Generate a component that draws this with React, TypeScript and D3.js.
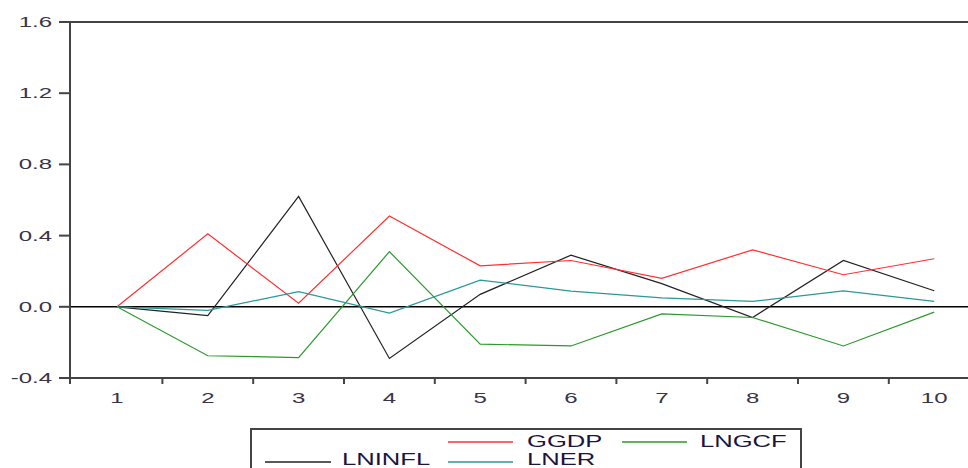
import React, { useEffect } from 'react'
import * as d3 from 'd3'

// periods on the x axis
const periods = ['1', '2', '3', '4', '5', '6', '7', '8', '9', '10']

// response values
const ggdp = [0.0, 0.41, 0.02, 0.51, 0.23, 0.26, 0.16, 0.32, 0.18, 0.27]
const lninfl = [0.0, -0.05, 0.62, -0.29, 0.07, 0.29, 0.13, -0.06, 0.26, 0.09]
const lngcf = [0.0, -0.275, -0.285, 0.31, -0.21, -0.22, -0.04, -0.06, -0.22, -0.03]
const lner = [0.0, -0.02, 0.085, -0.035, 0.15, 0.088, 0.05, 0.03, 0.09, 0.03]

const yTicks = [-0.4, 0.0, 0.4, 0.8, 1.2, 1.6]

const series = [
    { name: 'LNINFL', values: lninfl, color: '#222222' },
    { name: 'GGDP', values: ggdp, color: '#ff3030' },
    { name: 'LNGCF', values: lngcf, color: '#2a9a2a' },
    { name: 'LNER', values: lner, color: '#2a9898' },
]

const W = 968
const H = 468
const font = 'Arial, "Liberation Sans", sans-serif'
const SX = 1.6 // the picture's text is stretched sideways

// text stretched horizontally around its anchor point
const Label = ({ x, y, anchor = 'start', size, fill, children }: any) => (
    <text transform={`translate(${x},${y}) scale(${SX},1)`} textAnchor={anchor}
        fontFamily={font} fontSize={size} fill={fill}>
        {children}
    </text>
)

export default function App() {
    useEffect(() => {
        document.body.style.margin = '0'
    }, [])

    const x = d3.scaleBand().domain(periods).range([71.6, 71.6 + 908]).padding(0)
    const y = d3.scaleLinear().domain([-0.4, 1.6]).range([378, 22])
    const cx = (p: string) => (x(p) ?? 0) + x.bandwidth() / 2

    const line = d3.line<number>()
        .x((_, i) => cx(periods[i]))
        .y(d => y(d))

    // band boundaries for x ticks
    const boundaries = periods.map(p => x(p) ?? 0)

    return (
        <svg width={W} height={H} style={{ display: 'block', background: '#fff' }}>
            {/* top border */}
            <line x1={70} x2={W} y1={y(1.6)} y2={y(1.6)} stroke="#444" strokeWidth={2} />
            {/* zero line */}
            <line x1={70} x2={W} y1={y(0)} y2={y(0)} stroke="#000" strokeWidth={1.5} />

            {series.map(s => (
                <path key={s.name} d={line(s.values) ?? ''} fill="none" stroke={s.color} strokeWidth={1.2} />
            ))}

            {/* y axis */}
            <line x1={70} x2={70} y1={y(1.6)} y2={384} stroke="#444" strokeWidth={2} />
            {yTicks.map(t => (
                <g key={t}>
                    <line x1={59} x2={70} y1={y(t)} y2={y(t)} stroke="#444" strokeWidth={2} />
                    <Label x={52} y={y(t) + 5} anchor="end" size={15} fill="#38344a">{t.toFixed(1)}</Label>
                </g>
            ))}

            {/* x axis */}
            <line x1={69} x2={W} y1={378} y2={378} stroke="#444" strokeWidth={2} />
            {boundaries.map((b, i) => i > 0 && (
                <line key={i} x1={b} x2={b} y1={378} y2={384} stroke="#444" strokeWidth={2} />
            ))}
            {periods.map(p => (
                <Label key={p} x={cx(p)} y={403} anchor="middle" size={15} fill="#38344a">{p}</Label>
            ))}

            {/* legend */}
            <rect x={251} y={429} width={550} height={60} fill="none" stroke="#444" strokeWidth={2} />
            <line x1={448} x2={513} y1={442} y2={442} stroke="#ff3030" strokeWidth={1.5} />
            <Label x={527} y={447} size={16} fill="#1c1440">GGDP</Label>
            <line x1={622} x2={687} y1={442} y2={442} stroke="#2a9a2a" strokeWidth={1.5} />
            <Label x={700} y={447} size={16} fill="#1c1440">LNGCF</Label>
            <line x1={265} x2={331} y1={462} y2={462} stroke="#222" strokeWidth={1.5} />
            <Label x={342} y={465} size={16} fill="#1c1440">LNINFL</Label>
            <line x1={448} x2={513} y1={462} y2={462} stroke="#2a9898" strokeWidth={1.5} />
            <Label x={527} y={465} size={16} fill="#1c1440">LNER</Label>
        </svg>
    )
}
